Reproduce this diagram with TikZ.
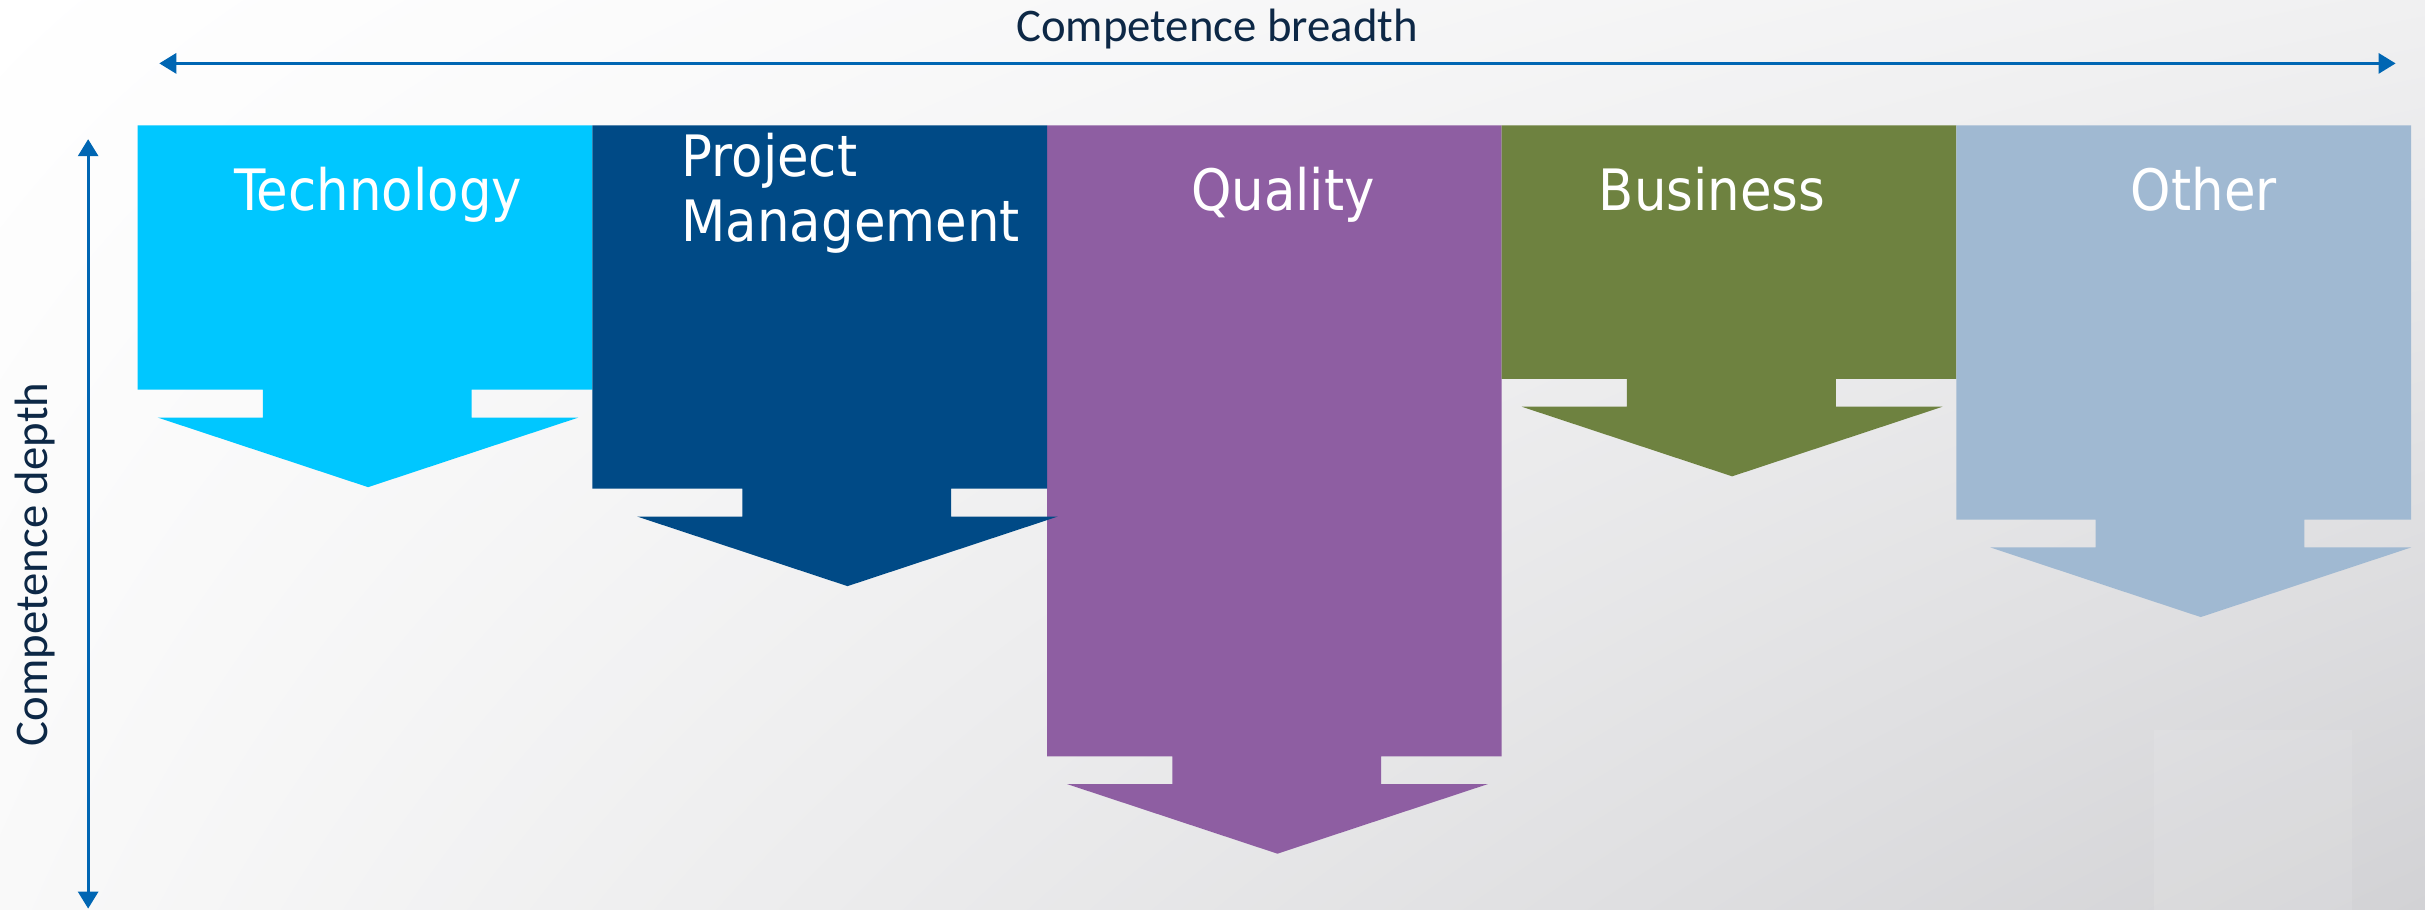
\documentclass[tikz,border=0pt]{standalone}
\usepackage{fontspec}
\setmainfont{Carlito}
\newfontfamily\boxfont[FakeStretch=0.9]{DejaVu Sans}
\usetikzlibrary{arrows.meta,shadings}

\definecolor{techblue}{RGB}{0,199,255}
\definecolor{pmblue}{RGB}{0,74,134}
\definecolor{qualpurple}{RGB}{142,94,162}
\definecolor{busgreen}{RGB}{110,130,64}
\definecolor{otherblue}{RGB}{160,185,210}
\definecolor{axisblue}{RGB}{0,102,179}
\definecolor{axisnavy}{RGB}{13,40,70}
\definecolor{bgtr}{RGB}{240,240,241}
\definecolor{bgbl}{RGB}{249,249,249}
\definecolor{bgbr}{RGB}{210,210,213}

% column with arrow below: left, bottom, shift of the arrow, colour
\newcommand{\compcol}[4]{%
  \fill[#4] (#1,81) -- (#1+294,81) -- (#1+294,#2)
    -- (#1+216+#3,#2) -- (#1+216+#3,#2+18) -- (#1+285+#3,#2+18)
    -- (#1+149+#3,#2+63) -- (#1+13+#3,#2+18) -- (#1+81+#3,#2+18)
    -- (#1+81+#3,#2) -- (#1,#2) -- cycle;}

\tikzset{
  axisline/.style={draw=axisblue, line width=0.5pt,
    {Triangle[length=1.1mm,width=1.3mm]}-{Triangle[length=1.1mm,width=1.3mm]}},
  colname/.style={text=white, inner sep=0pt,
    font=\boxfont\fontsize{10.5}{11.9}\selectfont},
  axislabel/.style={text=axisnavy, inner sep=0pt,
    font=\fontsize{8.6}{10}\selectfont}
}

\begin{document}
\begin{tikzpicture}[x=0.1mm, y=-0.1mm]

\useasboundingbox (0,0) rectangle (1568,588.4);
\shade[upper left=white, upper right=bgtr, lower left=bgbl, lower right=bgbr]
  (0,0) rectangle (1568,588.4);

\fill[white, opacity=0.1] (1393,472) rectangle (1521,588.4);

\compcol{89}{252}{0}{techblue}
\compcol{677}{489}{0}{qualpurple}
\compcol{383}{316}{16}{pmblue}
\compcol{971}{245}{0}{busgreen}
\compcol{1265}{336}{9}{otherblue}

\node[colname, anchor=base] (tech) at (244.5,136) {Technology};
\node[colname, anchor=base west, align=left] (pm) at (440,156) {Project\\Management};
\node[colname, anchor=base] (qual) at (829.5,136) {Quality};
\node[colname, anchor=base] (bus) at (1107,136) {Business};
\node[colname, anchor=base] (other) at (1425,136) {Other};

% axes
\coordinate (bleft) at (103,41);
\coordinate (bright) at (1549,41);
\coordinate (dtop) at (57,90);
\coordinate (dbot) at (57,587.5);
\draw[axisline] (bleft) -- (bright);
\draw[axisline] (dtop) -- (dbot);

\node[axislabel, anchor=base] (breadth) at (787,27) {Competence breadth};
\node[axislabel, anchor=base, rotate=90] (depth) at (31,365) {Competence depth};

\end{tikzpicture}
\end{document}
